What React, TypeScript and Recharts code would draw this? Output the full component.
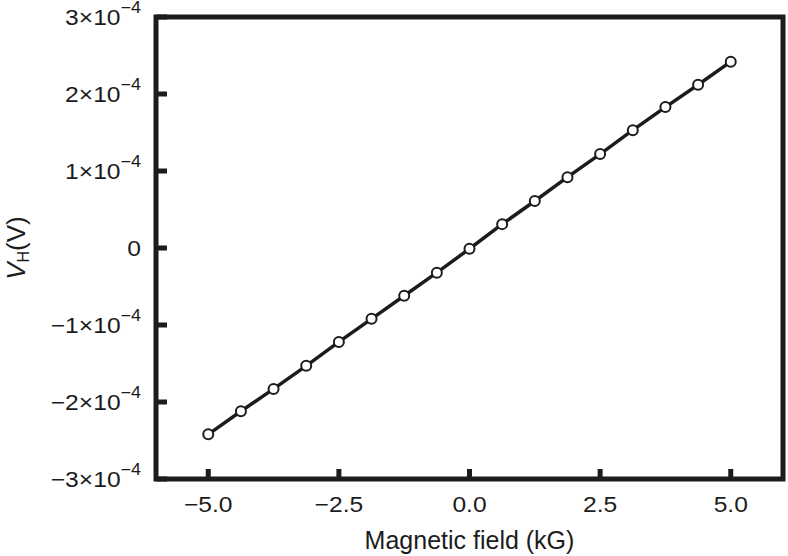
import { LineChart, Line, XAxis, YAxis, ReferenceArea } from 'recharts'

const fieldKG = [
  -5, -4.375, -3.75, -3.125, -2.5, -1.875, -1.25, -0.625, 0, 0.625, 1.25, 1.875, 2.5, 3.125, 3.75,
  4.375, 5,
]
const hallVoltage = [
  -2.42e-4, -2.12e-4, -1.83e-4, -1.53e-4, -1.22e-4, -0.92e-4, -0.62e-4, -0.32e-4, -0.01e-4,
  0.31e-4, 0.61e-4, 0.92e-4, 1.22e-4, 1.53e-4, 1.83e-4, 2.12e-4, 2.42e-4,
]
const xTicks = [-5, -2.5, 0, 2.5, 5]
const yTicks = [-3e-4, -2e-4, -1e-4, 0, 1e-4, 2e-4, 3e-4]

const data = fieldKG.map((b, i) => ({ b, v: hallVoltage[i] }))

const FONT = '"Liberation Sans", Arial, sans-serif'
const INK = '#1c1c1c'
// tick labels in the source are a little wider than the font is tall
const SX = 1.12

const fmtX = (v: number) => (v < 0 ? '\u2212' : '') + Math.abs(v).toFixed(1)

function XTick(props: any) {
  const { x, y, payload } = props
  return (
    <g>
      <line x1={x} x2={x} y1={y} y2={y - 10} stroke={INK} strokeWidth={5} />
      <text
        transform={`translate(${x},${y + 33}) scale(${SX},1)`}
        textAnchor="middle"
        fontSize={22}
        fontFamily={FONT}
        fill={INK}
      >
        {fmtX(payload.value)}
      </text>
    </g>
  )
}

function YTick(props: any) {
  const { x, y, payload } = props
  const n = Math.round(payload.value / 1e-4)
  return (
    <g>
      <line x1={x} x2={x + 11} y1={y} y2={y} stroke={INK} strokeWidth={5} />
      <text
        transform={`translate(${x - 15},${y + 8.3}) scale(${SX},1)`}
        textAnchor="end"
        fontSize={22}
        fontFamily={FONT}
        fill={INK}
      >
        {n === 0 ? (
          '0'
        ) : (
          <>
            <tspan>{(n < 0 ? '\u2212' : '') + Math.abs(n) + '\u00d710'}</tspan>
            <tspan dy={-12} fontSize={16}>
              {'\u22124'}
            </tspan>
          </>
        )}
      </text>
    </g>
  )
}

function XLabel(props: any) {
  const { viewBox } = props
  return (
    <text
      x={viewBox.x + viewBox.width / 2}
      y={viewBox.y + 70}
      textAnchor="middle"
      fontSize={25}
      fontFamily={FONT}
      fill={INK}
    >
      Magnetic field (kG)
    </text>
  )
}

function YLabel(props: any) {
  const { viewBox } = props
  const cy = viewBox.y + viewBox.height / 2
  return (
    <text
      transform={`translate(25,${cy}) rotate(-90)`}
      textAnchor="middle"
      fontSize={26}
      fontFamily={FONT}
      fill={INK}
    >
      <tspan fontStyle="italic">V</tspan>
      <tspan fontSize={16} dy={4}>
        H
      </tspan>
      <tspan dy={-4}>(V)</tspan>
    </text>
  )
}

export default function App() {
  return (
    <div style={{ position: 'absolute', left: 0, top: 0, background: '#fff' }}>
      <LineChart
        width={788}
        height={556}
        data={data}
        margin={{ top: 17, right: 5, bottom: 0, left: 0 }}
      >
        <XAxis
          dataKey="b"
          type="number"
          domain={[-6, 6]}
          ticks={xTicks}
          height={77}
          axisLine={false}
          tickLine={false}
          tickSize={0}
          tickMargin={0}
          tick={<XTick />}
          label={<XLabel />}
        />
        <YAxis
          dataKey="v"
          type="number"
          domain={[-3e-4, 3e-4]}
          ticks={yTicks}
          width={156}
          axisLine={false}
          tickLine={false}
          tickSize={0}
          tickMargin={0}
          tick={<YTick />}
          label={<YLabel />}
        />
        <ReferenceArea
          x1={-6}
          x2={6}
          y1={-3e-4}
          y2={3e-4}
          fill="none"
          stroke={INK}
          strokeWidth={5}
        />
        <Line
          dataKey="v"
          stroke={INK}
          strokeWidth={3.5}
          isAnimationActive={false}
          dot={{ r: 5, fill: '#fff', stroke: INK, strokeWidth: 2 }}
          activeDot={false}
        />
      </LineChart>
    </div>
  )
}
